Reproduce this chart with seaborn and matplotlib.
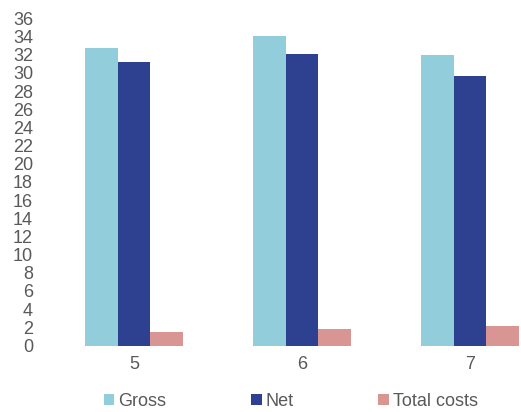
import matplotlib
matplotlib.use("Agg")
import matplotlib.pyplot as plt
import seaborn as sns
import pandas as pd

groups = ["5", "6", "7"]
series = ["Gross", "Net", "Total costs"]
gross = [32.7, 34.0, 32.0]
net = [31.2, 32.1, 29.7]
total_costs = [1.45, 1.8, 2.2]
colors = ["#92CDDC", "#2E4190", "#D99594"]
yticks = list(range(0, 37, 2))

df = pd.DataFrame({
    "group": groups * 3,
    "series": ["Gross"] * 3 + ["Net"] * 3 + ["Total costs"] * 3,
    "value": gross + net + total_costs,
})

sns.set_style("white")
plt.rcParams["font.family"] = ["Liberation Sans", "DejaVu Sans"]
txt = "#595959"

fig = plt.figure(figsize=(5.21, 4.12), dpi=100)
ax = fig.add_axes([0.0768, 0.1614, 0.9232, 0.7942])
sns.barplot(data=df, x="group", y="value", hue="series", order=groups,
            hue_order=series, palette=colors, width=0.58, linewidth=0,
            saturation=1, ax=ax)

ax.set_ylim(0, 36)
ax.set_xlim(-0.56, 2.304)
ax.set_yticks(yticks)
ax.set_xlabel("")
ax.set_ylabel("")
for s in ax.spines.values():
    s.set_visible(False)
ax.tick_params(axis="y", length=0, pad=5, labelsize=13, labelcolor=txt)
ax.tick_params(axis="x", length=0, pad=7.5, labelsize=13, labelcolor=txt)

handles, labels = ax.get_legend_handles_labels()
ax.get_legend().remove()
fig.legend(handles, labels, loc="center", bbox_to_anchor=(0.558, 0.026),
           ncol=3, frameon=False, fontsize=13, labelcolor=txt,
           handlelength=0.6, handleheight=0.6, handletextpad=0.2,
           columnspacing=4.7, borderpad=0)

fig.savefig("out.png", dpi=100)
